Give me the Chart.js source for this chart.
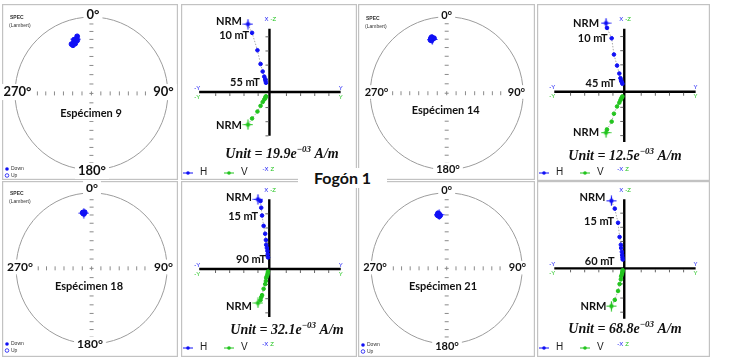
<!DOCTYPE html>
<html lang="es">
<head>
<meta charset="UTF-8">
<title>Fogón 1</title>
<style>
  body { margin: 0; background: #fff; }
  #wrap { position: relative; width: 736px; height: 359px; overflow: hidden; background: #fff; }
  #wrap canvas { position: absolute; }
  #title { position: absolute; left: 298px; top: 168px; width: 89px; height: 20px; background: #fff;
           font: bold 16px Lato, sans-serif; text-align: center; line-height: 20px; color: #111; }
</style>
</head>
<body>
<div id="wrap">
  <canvas id="st9"></canvas>
  <canvas id="zj9"></canvas>
  <canvas id="st14"></canvas>
  <canvas id="zj14"></canvas>
  <canvas id="st18"></canvas>
  <canvas id="zj18"></canvas>
  <canvas id="st21"></canvas>
  <canvas id="zj21"></canvas>
  <div id="title">Fogón 1</div>
</div>

<script src="https://cdn.jsdelivr.net/npm/chart.js@4.4.0/dist/chart.umd.min.js"></script>
<script>
// ---- data ----
// stereonet directions (declination, inclination in degrees)
const dec9  = [344, 346, 345, 342, 345, 341, 342, 338, 339];
const inc9  = [27, 24, 27, 27, 29, 30, 32, 31, 33];
const dec14 = [345, 346, 343, 344, 347, 345, 344];
const inc14 = [28, 27, 28, 29, 27, 25, 26];
const dec18 = [352, 351, 352, 353, 351];
const inc18 = [27, 27, 28, 26, 26];
const dec21 = [352, 351, 352, 350, 353, 351, 352];
const inc21 = [29, 30, 28, 29, 30, 27, 31];

// Zijderveld components, in axis ticks (east = Y, north = X, down = Z)
const east9  = [-1.52, -1.23, -0.85, -0.63, -0.48, -0.37, -0.30, -0.28, -0.25];
const north9 = [4.80, 4.18, 2.95, 1.98, 1.45, 1.09, 0.91, 0.80, 0.65];
const down9  = [2.31, 1.87, 1.38, 0.98, 0.71, 0.53, 0.45, 0.35, 0.30];

const east14  = [-1.29, -1.22, -0.89, -0.73, -0.51, -0.35, -0.27, -0.22, -0.17, -0.13];
const north14 = [4.85, 4.51, 3.78, 2.63, 1.85, 1.29, 0.96, 0.78, 0.67, 0.56];
const down14  = [2.89, 2.67, 2.11, 1.55, 1.04, 0.77, 0.60, 0.49, 0.40, 0.33];

const east18  = [-0.80, -0.62, -0.57, -0.51, -0.40, -0.29, -0.24, -0.22, -0.17, -0.13, -0.11, -0.09];
const north18 = [4.93, 4.80, 4.33, 3.78, 3.05, 2.49, 2.05, 1.71, 1.49, 1.27, 1.05, 0.82];
const down18  = [2.40, 2.20, 2.00, 1.85, 1.40, 1.07, 0.85, 0.62, 0.51, 0.40, 0.29, 0.18];

const east21  = [-0.91, -0.67, -0.44, -0.33, -0.24, -0.22, -0.17, -0.15, -0.13, -0.11];
const north21 = [4.77, 4.22, 3.22, 2.22, 1.67, 1.44, 1.17, 0.95, 0.77, 0.62];
const down21  = [2.67, 2.23, 1.60, 1.11, 0.78, 0.56, 0.43, 0.33, 0.23, 0.13];

// labelled steps (index into the arrays above)
const stepIdx9  = [0, 1, 8];  const stepTxt9  = ['NRM', '10 mT', '55 mT'];
const stepIdx14 = [0, 2, 9];  const stepTxt14 = ['NRM', '10 mT', '45 mT'];
const stepIdx18 = [0, 3, 11]; const stepTxt18 = ['NRM', '15 mT', '90 mT'];
const stepIdx21 = [0, 2, 9];  const stepTxt21 = ['NRM', '15 mT', '60 mT'];

const units = ['19.9', '12.5', '32.1', '68.8'];
const names = ['Espécimen 9', 'Espécimen 14', 'Espécimen 18', 'Espécimen 21'];

// ---- drawing helpers ----
const BLUE = '#1010f5', GREEN = '#22c41e';
const deg = Math.PI / 180;
const lambert = inc => Math.SQRT2 * Math.sin((90 - Math.abs(inc)) / 2 * deg);

// NRM marker: thin cross with a dot in the middle
function nrmMarker(color) {
  const c = document.createElement('canvas');
  c.width = 11; c.height = 11;
  const g = c.getContext('2d');
  g.strokeStyle = color; g.lineWidth = 1.2;
  g.beginPath(); g.moveTo(0.5, 5.5); g.lineTo(10.5, 5.5); g.moveTo(5.5, 0.5); g.lineTo(5.5, 10.5); g.stroke();
  g.fillStyle = color;
  g.beginPath(); g.arc(5.5, 5.5, 2.2, 0, 2 * Math.PI); g.fill();
  return c;
}
const markBlue = nrmMarker(BLUE), markGreen = nrmMarker(GREEN);

function label(ctx, txt, x, y, font, color, align, bg) {
  ctx.font = font;
  ctx.textAlign = align || 'center';
  ctx.textBaseline = 'middle';
  if (bg) {
    const w = ctx.measureText(txt).width;
    const x0 = align === 'right' ? x - w : align === 'left' ? x : x - w / 2;
    ctx.fillStyle = '#fff';
    ctx.fillRect(x0 - 3, y - bg, w + 6, bg * 2);
  }
  ctx.fillStyle = color;
  ctx.fillText(txt, x, y);
}

function border(ctx, chart) {
  ctx.strokeStyle = '#c2c2c2';
  ctx.lineWidth = 1.2;
  ctx.strokeRect(0.6, 0.6, chart.width - 1.2, chart.height - 1.2);
}

const baseOptions = (xmin, xmax, ymin, ymax) => ({
  responsive: false,
  animation: false,
  events: [],
  layout: { padding: 0 },
  plugins: { legend: { display: false }, tooltip: { enabled: false } },
  scales: {
    x: { type: 'linear', display: false, min: xmin, max: xmax },
    y: { type: 'linear', display: false, min: ymin, max: ymax }
  }
});

function place(cv, p) {
  cv.width = p.w; cv.height = p.h;
  cv.style.left = p.left + 'px'; cv.style.top = p.top + 'px';
}

// ---- stereonets ----
function makeStereo(p) {
  const cv = document.getElementById(p.id);
  place(cv, p);
  const lx = p.cx - p.left, ly = p.cy - p.top;
  const pts = p.dec.map((d, i) => {
    const r = lambert(p.inc[i]);
    return { x: r * Math.sin(d * deg), y: r * Math.cos(d * deg) };
  });
  const frame = {
    id: 'stereoFrame',
    beforeDatasetsDraw(chart) {
      const ctx = chart.ctx, sx = chart.scales.x, sy = chart.scales.y;
      const cx = sx.getPixelForValue(0), cy = sy.getPixelForValue(0);
      const R = sx.getPixelForValue(1) - cx;
      const L = p.left, T = p.top;
      ctx.save();
      border(ctx, chart);
      ctx.strokeStyle = '#9c9c9c'; ctx.lineWidth = 1;
      ctx.beginPath(); ctx.arc(cx, cy, R, 0, 2 * Math.PI); ctx.stroke();
      ctx.strokeStyle = '#8a8a8a';
      ctx.beginPath();
      for (let inc = 10; inc < 90; inc += 10) {
        const r = lambert(inc) * R;
        ctx.moveTo(cx - 2, cy - r); ctx.lineTo(cx + 2, cy - r);
        ctx.moveTo(cx - 2, cy + r); ctx.lineTo(cx + 2, cy + r);
        ctx.moveTo(cx - r, cy - 2); ctx.lineTo(cx - r, cy + 2);
        ctx.moveTo(cx + r, cy - 2); ctx.lineTo(cx + r, cy + 2);
      }
      ctx.moveTo(cx - 2, cy); ctx.lineTo(cx + 2, cy);
      ctx.moveTo(cx, cy - 2); ctx.lineTo(cx, cy + 2);
      ctx.stroke();
      const f = 'bold ' + p.fs + 'px Lato, sans-serif';
      const hb = p.fs * 0.62;
      label(ctx, '0°', p.n[0] - L, p.n[1] - T, f, '#111', 'center', hb);
      label(ctx, '180°', p.s[0] - L, p.s[1] - T, f, '#111', 'center', hb);
      label(ctx, '270°', p.w0[0] - L, p.w0[1] - T, f, '#111', 'center', hb);
      label(ctx, '90°', p.e[0] - L, p.e[1] - T, f, '#111', 'center', hb);
      label(ctx, p.name, p.nm[0] - L, p.nm[1] - T, 'bold 11px Lato, sans-serif', '#111', 'center', 8);
      if (p.spec) {
        label(ctx, 'SPEC', 8, p.specY - T, 'bold 5px "Liberation Sans", sans-serif', '#333', 'left');
        label(ctx, '(Lambert)', 7, p.specY - T + 8, '5px "Liberation Sans", sans-serif', '#333', 'left');
      }
      if (p.legY) {
        const y = p.legY - T;
        ctx.fillStyle = BLUE;
        ctx.beginPath(); ctx.arc(5, y, 1.8, 0, 2 * Math.PI); ctx.fill();
        ctx.strokeStyle = BLUE; ctx.lineWidth = 0.8;
        ctx.beginPath(); ctx.arc(5, y + 6.5, 1.8, 0, 2 * Math.PI); ctx.stroke();
        label(ctx, 'Down', 9, y, '5px "Liberation Sans", sans-serif', '#333', 'left');
        label(ctx, 'Up', 9, y + 6.5, '5px "Liberation Sans", sans-serif', '#333', 'left');
      }
      ctx.restore();
    }
  };
  new Chart(cv, {
    type: 'scatter',
    data: {
      datasets: [{
        data: pts,
        pointStyle: pts.map((_, i) => i === 0 ? markBlue : 'circle'),
        pointRadius: 2.4,
        pointBackgroundColor: BLUE,
        pointBorderColor: BLUE,
        pointBorderWidth: 1
      }]
    },
    options: baseOptions(-lx / p.R, (p.w - lx) / p.R, -(p.h - ly) / p.R, ly / p.R),
    plugins: [frame]
  });
}

// ---- Zijderveld diagrams ----
function makeZijder(p) {
  const cv = document.getElementById(p.id);
  place(cv, p);
  const lx = p.ox - p.left, ly = p.oy - p.top, k = p.scale;
  const H = p.east.map((e, i) => ({ x: e, y: p.north[i] }));
  const V = p.east.map((e, i) => ({ x: e, y: -p.down[i] }));
  const series = (data, color, mark) => ({
    data: data,
    showLine: true,
    borderColor: '#a8a8a8',
    borderWidth: 1,
    borderDash: [1.5, 1.5],
    pointStyle: data.map((_, i) => i === 0 ? mark : 'circle'),
    pointRadius: 1.8,
    pointBorderWidth: 1,
    pointBackgroundColor: color,
    pointBorderColor: color
  });
  const frame = {
    id: 'zijFrame',
    beforeDatasetsDraw(chart) {
      const ctx = chart.ctx, sx = chart.scales.x, sy = chart.scales.y;
      const X = v => sx.getPixelForValue(v), Y = v => sy.getPixelForValue(v);
      const ox = X(0), oy = Y(0);
      ctx.save();
      border(ctx, chart);
      // axes
      ctx.strokeStyle = '#000'; ctx.lineWidth = 2.4;
      ctx.beginPath();
      ctx.moveTo(X(p.ax[0]), oy); ctx.lineTo(X(p.ax[1]), oy);
      ctx.moveTo(ox, Y(p.ax[2])); ctx.lineTo(ox, Y(p.ax[3]));
      ctx.stroke();
      // ticks
      ctx.strokeStyle = '#666'; ctx.lineWidth = 1;
      ctx.beginPath();
      for (let t = -4; t <= 4; t++) {
        if (t === 0) continue;
        const tx = X(t + 0.2);
        ctx.moveTo(tx, oy + 1); ctx.lineTo(tx, oy + 4);
      }
      for (let t = -3; t <= 4; t++) {
        if (t === 0) continue;
        const v = t - 0.1;
        if (v > p.ax[2] || v < p.ax[3]) continue;
        ctx.moveTo(ox - 4, Y(v)); ctx.lineTo(ox - 1, Y(v));
      }
      ctx.stroke();
      // axis end labels
      const tf = '6px "Liberation Sans", sans-serif';
      const xl = X(p.ax[0]), xr = X(p.ax[1]);
      label(ctx, '-Y', xl - 2, oy - 4, tf, BLUE, 'center');
      label(ctx, '-Y', xl - 2, oy + 5, tf, GREEN, 'center');
      label(ctx, 'Y', xr, oy - 4, tf, BLUE, 'center');
      label(ctx, 'Y', xr, oy + 5, tf, GREEN, 'center');
      const yt = Y(p.ax[2]) - 9;
      label(ctx, 'X', ox - 1, yt, tf, BLUE, 'right');
      label(ctx, '-Z', ox + 1, yt, tf, GREEN, 'left');
      ctx.restore();
    },
    afterDatasetsDraw(chart) {
      const ctx = chart.ctx, sx = chart.scales.x, sy = chart.scales.y;
      const L = p.left, T = p.top;
      ctx.save();
      const lf = 'bold 11px Lato, sans-serif';
      p.stepIdx.forEach((idx, j) => {
        const o = p.off[j];
        const px = sx.getPixelForValue(H[idx].x), py = sy.getPixelForValue(H[idx].y);
        label(ctx, p.stepTxt[j], px + o[0], py + o[1], lf, '#111', 'right');
      });
      const v0 = V[p.stepIdx[0]];
      label(ctx, p.stepTxt[0], sx.getPixelForValue(v0.x) + p.off[3][0], sy.getPixelForValue(v0.y) + p.off[3][1], lf, '#111', 'right');
      // unit
      const f1 = 'italic bold 14px "Liberation Serif", serif';
      const f2 = 'italic bold 9px "Liberation Serif", serif';
      const a = 'Unit = ' + p.unit + 'e', b = '\u221203', c = ' A/m';
      ctx.font = f1; const wa = ctx.measureText(a).width, wc = ctx.measureText(c).width;
      ctx.font = f2; const wb = ctx.measureText(b).width;
      let x = p.unitPos[0] - L - (wa + wb + wc) / 2;
      const base = p.unitPos[1] - T + 5;
      ctx.textAlign = 'left'; ctx.textBaseline = 'alphabetic'; ctx.fillStyle = '#111';
      ctx.font = f1; ctx.fillText(a, x, base); x += wa;
      ctx.font = f2; ctx.fillText(b, x, base - 6); x += wb;
      ctx.font = f1; ctx.fillText(c, x, base);
      // legend
      const y = p.legY - T;
      [[2, BLUE, 'H', 19], [43, GREEN, 'V', 60]].forEach(([x0, col, t, tx]) => {
        ctx.strokeStyle = col; ctx.lineWidth = 1;
        ctx.beginPath(); ctx.moveTo(x0, y); ctx.lineTo(x0 + 10, y); ctx.stroke();
        ctx.fillStyle = col;
        ctx.beginPath(); ctx.arc(x0 + 5, y, 1.8, 0, 2 * Math.PI); ctx.fill();
        label(ctx, t, tx, y - 1, '10px "Liberation Sans", sans-serif', '#222', 'left');
      });
      const ox = sx.getPixelForValue(0);
      const tf = '6px "Liberation Sans", sans-serif';
      label(ctx, '-X', ox - 1, y - 4, tf, BLUE, 'right');
      label(ctx, 'Z', ox + 1, y - 4, tf, GREEN, 'left');
      ctx.restore();
    }
  };
  new Chart(cv, {
    type: 'scatter',
    data: { datasets: [series(H, BLUE, markBlue), series(V, GREEN, markGreen)] },
    options: baseOptions(-lx / k, (p.w - lx) / k, -(p.h - ly) / k, ly / k),
    plugins: [frame]
  });
}

// ---- panels ----
makeStereo({ id: 'st9', left: 2, top: 4, w: 176, h: 176, cx: 91.5, cy: 93.5, R: 81, dec: dec9, inc: inc9,
  name: names[0], fs: 13, n: [93, 15], s: [92, 171], w0: [17.5, 92], e: [163.5, 92], nm: [91, 113],
  spec: true, specY: 18, legY: 169 });
makeStereo({ id: 'st14', left: 358, top: 4, w: 177, h: 176, cx: 446.7, cy: 93.3, R: 81, dec: dec14, inc: inc14,
  name: names[1], fs: 11, n: [446.7, 15], s: [448, 169], w0: [376.5, 92], e: [516.5, 92], nm: [445.7, 110],
  spec: true, specY: 19, legY: 0 });
makeStereo({ id: 'st18', left: 2, top: 181, w: 176, h: 176, cx: 91.7, cy: 268.3, R: 80, dec: dec18, inc: inc18,
  name: names[2], fs: 12, n: [92, 188.5], s: [90, 344], w0: [20, 267], e: [163.5, 267], nm: [89, 286.7],
  spec: true, specY: 194, legY: 344 });
makeStereo({ id: 'st21', left: 358, top: 181, w: 177, h: 176, cx: 446.7, cy: 268.3, R: 80, dec: dec21, inc: inc21,
  name: names[3], fs: 11, n: [446.7, 190], s: [447, 346], w0: [375, 267.7], e: [517.5, 267.7], nm: [443, 286.7],
  spec: false, legY: 345 });

makeZijder({ id: 'zj9', left: 181, top: 4, w: 176, h: 176, ox: 269.5, oy: 92, scale: 15,
  east: east9, north: north9, down: down9, ax: [-4.97, 5.03, 4.47, -3.1],
  stepIdx: stepIdx9, stepTxt: stepTxt9, off: [[-6, -3], [-3, 3], [-6, 0], [-6, 1]],
  unit: units[0], unitPos: [282, 153], legY: 173 });
makeZijder({ id: 'zj14', left: 537, top: 4, w: 173, h: 177, ox: 624.3, oy: 91.7, scale: 15,
  east: east14, north: north14, down: down14, ax: [-4.95, 5.05, 4.45, -3.55],
  stepIdx: stepIdx14, stepTxt: stepTxt14, off: [[-7, 0], [-4, 0], [-7, 0], [-7, 0]],
  unit: units[1], unitPos: [625, 155], legY: 173 });
makeZijder({ id: 'zj18', left: 181, top: 181, w: 176, h: 176, ox: 269.3, oy: 269, scale: 15,
  east: east18, north: north18, down: down18, ax: [-4.95, 5.05, 4.93, -3.4],
  stepIdx: stepIdx18, stepTxt: stepTxt18, off: [[-6, -2], [-4, 1], [-2, 2], [-6, 3]],
  unit: units[2], unitPos: [287, 329], legY: 348 });
makeZijder({ id: 'zj21', left: 537, top: 181, w: 173, h: 176, ox: 624.3, oy: 268.3, scale: 15,
  east: east21, north: north21, down: down21, ax: [-4.95, 5.05, 4.89, -3.56],
  stepIdx: stepIdx21, stepTxt: stepTxt21, off: [[-6, -3], [-4, -1], [-8, 2], [-5, 0]],
  unit: units[3], unitPos: [625, 328], legY: 348 });
</script>
</body>
</html>
